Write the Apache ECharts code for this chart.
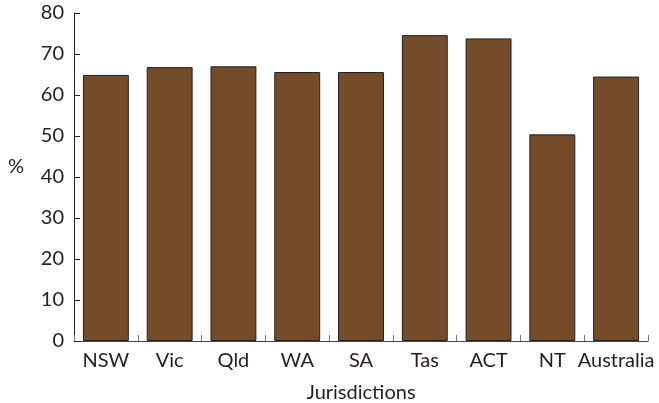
<!DOCTYPE html>
<html>
<head>
<meta charset="utf-8">
<script src="https://cdn.jsdelivr.net/npm/echarts@6/dist/echarts.min.js"></script>
<style>html,body{margin:0;padding:0;background:#fff;}#c{width:659px;height:403px;}</style>
</head>
<body>
<div id="c"></div>
<script>
const categories = ['NSW', 'Vic', 'Qld', 'WA', 'SA', 'Tas', 'ACT', 'NT', 'Australia'];
const values = [64.9, 66.8, 67.0, 65.6, 65.6, 74.6, 73.8, 50.4, 64.5];
const yTicks = [0, 10, 20, 30, 40, 50, 60, 70, 80];

const chart = echarts.init(document.getElementById('c'), null, {renderer: 'canvas'});
const font = 'Lato';
const txt = '#231f20';
chart.setOption({
  animation: false,
  grid: {left: 74, right: 11, top: 13, bottom: 62, containLabel: false, outerBoundsMode: 'none'},
  xAxis: {
    type: 'category',
    data: categories,
    name: 'Jurisdictions',
    nameLocation: 'middle',
    nameGap: 42,
    nameTextStyle: {fontFamily: font, fontSize: 20, color: txt},
    axisLine: {lineStyle: {color: '#444', width: 1}},
    axisTick: {show: true, inside: true, length: 6, lineStyle: {color: '#777'}},
    axisLabel: {fontFamily: font, fontSize: 20, color: txt, margin: 10, interval: 0, hideOverlap: false}
  },
  yAxis: {
    type: 'value',
    min: yTicks[0],
    max: yTicks[yTicks.length - 1],
    interval: 10,
    name: '%',
    nameLocation: 'middle',
    nameRotate: 0,
    nameGap: 50,
    nameTextStyle: {fontFamily: font, fontSize: 20, color: txt, verticalAlign: 'bottom'},
    splitLine: {show: false},
    axisLine: {show: true, lineStyle: {color: '#222', width: 1}},
    axisTick: {show: true, inside: true, length: 6, lineStyle: {color: '#222'}},
    axisLabel: {fontFamily: font, fontSize: 20, color: txt, margin: 10}
  },
  series: [{
    type: 'bar',
    data: values,
    barCategoryGap: '28%',
    itemStyle: {color: '#744C2A', borderColor: '#222', borderWidth: 1}
  }]
});
</script>
</body>
</html>
